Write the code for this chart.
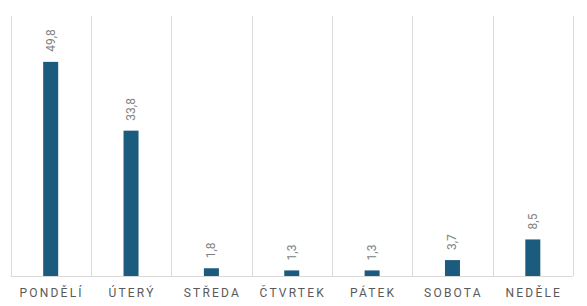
<!DOCTYPE html>
<html>
<head>
<meta charset="utf-8">
<script src="https://cdn.jsdelivr.net/npm/d3@7"></script>
<style>
  body { margin: 0; background: #fff; }
  svg text { font-family: Roboto, "Liberation Sans", sans-serif; }
</style>
</head>
<body>
<div id="chart"></div>
<script>
// Days of the week and their shares
const days = ["PONDĚLÍ", "ÚTERÝ", "STŘEDA", "ČTVRTEK", "PÁTEK", "SOBOTA", "NEDĚLE"];
const values = [49.8, 33.8, 1.8, 1.3, 1.3, 3.7, 8.5];

const width = 587;
const height = 306;
const margin = { top: 18, right: 14, bottom: 30, left: 10.5 };
const gridTop = 16;

const svg = d3
  .select("#chart")
  .append("svg")
  .attr("width", width)
  .attr("height", height);

const x = d3
  .scaleBand()
  .domain(days)
  .range([margin.left, width - margin.right]);

const y = d3
  .scaleLinear()
  .domain([0, 60])
  .range([height - margin.bottom, margin.top]);

// Vertical separators between categories
const edges = days.map((d) => x(d)).concat([x.range()[1]]);
svg
  .append("g")
  .selectAll("line")
  .data(edges)
  .enter()
  .append("line")
  .attr("x1", (d) => Math.round(d) + 0.5)
  .attr("x2", (d) => Math.round(d) + 0.5)
  .attr("y1", gridTop)
  .attr("y2", y(0))
  .style("stroke", "#d9d9d9")
  .style("stroke-width", "1px");

// Baseline
svg
  .append("line")
  .attr("x1", x.range()[0])
  .attr("x2", x.range()[1])
  .attr("y1", y(0) + 0.5)
  .attr("y2", y(0) + 0.5)
  .style("stroke", "#d9d9d9");

// Bars
const barW = 15;
svg
  .append("g")
  .selectAll("rect")
  .data(values)
  .enter()
  .append("rect")
  .attr("x", (d, i) => x(days[i]) + x.bandwidth() / 2 - barW / 2)
  .attr("y", (d) => y(d))
  .attr("width", barW)
  .attr("height", (d) => y(0) - y(d))
  .style("fill", "#1a5b7e");

// Value labels, rotated
svg
  .append("g")
  .selectAll("text")
  .data(values)
  .enter()
  .append("text")
  .attr("transform", (d, i) => {
    const cx = x(days[i]) + x.bandwidth() / 2 + 4;
    return `translate(${cx}, ${y(d) - 10}) rotate(-90)`;
  })
  .attr("text-anchor", "start")
  .text((d) => d.toFixed(1).replace(".", ","))
  .style("fill", "#7f7f7f")
  .style("font-size", "12px");

// Category labels
svg
  .append("g")
  .selectAll("text")
  .data(days)
  .enter()
  .append("text")
  .attr("x", (d) => x(d) + x.bandwidth() / 2 + 1)
  .attr("y", y(0) + 21)
  .attr("text-anchor", "middle")
  .text((d) => d)
  .style("fill", "#595959")
  .style("font-size", "12px")
  .style("letter-spacing", "2.2px");
</script>
</body>
</html>
